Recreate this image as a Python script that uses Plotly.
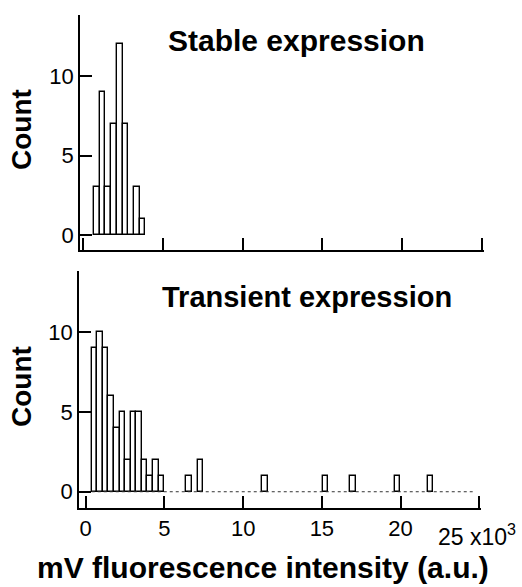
import plotly.graph_objects as go

# ---- data ----
stable_centers = [885, 1242, 1599, 1956, 2313, 2670, 3027, 3384, 3741]
stable_counts = [3, 9, 3, 7, 12, 7, 0, 3, 1]

transient_centers = [559, 913, 1267, 1621, 1975, 2329, 2683, 3037, 3391, 3745,
                     4099, 4453, 4807, 6564, 7284, 11385, 15243, 16988, 19809, 21891]
transient_counts = [9, 10, 9, 6, 4, 5, 2, 5, 5, 2,
                    1, 2, 1, 1, 2, 1, 1, 1, 1, 1]

bin_width = 354
zero_line_x = [382, 24580]

x_tick_vals = [0, 5000, 10000, 15000, 20000, 25000]
x_label_vals = [0, 5000, 10000, 15000, 20000]
x_label_text = ["0", "5", "10", "15", "20"]
y_tick_vals = [0, 5, 10]

W, H = 522, 587
FONT = "Liberation Sans, Arial, sans-serif"

fig = go.Figure()

bar_style = dict(marker=dict(color="white", line=dict(color="black", width=1.4)),
                 width=bin_width, showlegend=False)

fig.add_trace(go.Bar(x=stable_centers, y=stable_counts, xaxis="x", yaxis="y", **bar_style))
fig.add_trace(go.Scatter(x=zero_line_x, y=[0, 0], mode="lines", xaxis="x2", yaxis="y2",
                         line=dict(color="#333", width=1, dash="dot"), showlegend=False))
fig.add_trace(go.Bar(x=transient_centers, y=transient_counts, xaxis="x2", yaxis="y2", **bar_style))

axis_common = dict(showline=True, linecolor="black", linewidth=1.5, ticks="inside",
                   ticklen=12, tickwidth=1.5, tickcolor="black", showgrid=False,
                   zeroline=False, tickfont=dict(family=FONT, size=22, color="black"))

fig.update_layout(
    width=W, height=H,
    margin=dict(l=0, r=0, t=0, b=0),
    paper_bgcolor="white", plot_bgcolor="white",
    bargap=0,
    xaxis=dict(domain=[80 / W, 484 / W], range=[-169, 25106], anchor="y",
               tickvals=x_tick_vals, showticklabels=False, **axis_common),
    yaxis=dict(domain=[1 - 250 / H, 1 - 15 / H], range=[-0.94, 13.84], anchor="x",
               tickvals=y_tick_vals, **axis_common),
    xaxis2=dict(domain=[79 / W, 481 / W], range=[-427, 25108], anchor="y2",
                tickvals=x_label_vals, ticktext=x_label_text,
                minor=dict(tickvals=[25000], ticks="inside", ticklen=12, tickwidth=1.5,
                           tickcolor="black", showgrid=False),
                **axis_common),
    yaxis2=dict(domain=[1 - 508 / H, 1 - 271 / H], range=[-1.02, 13.85], anchor="x2",
                tickvals=y_tick_vals, **axis_common),
)

def ann(text, x, y, size, angle=0, xanchor="center"):
    fig.add_annotation(text=text, x=x, y=y, xref="paper", yref="paper",
                       xanchor=xanchor, yanchor="middle", showarrow=False, textangle=angle,
                       font=dict(family=FONT, size=size, color="black"))

ann("<b>Stable expression</b>", 296 / W, 1 - 41 / H, 30)
ann("<b>Transient expression</b>", 307 / W, 1 - 297 / H, 29)
ann("<b>Count</b>", 22 / W, 1 - 130 / H, 28, angle=-90)
ann("<b>Count</b>", 21 / W, 1 - 387 / H, 28, angle=-90)
ann("<b>mV fluorescence intensity (a.u.)</b>", 263 / W, 1 - 567 / H, 30)
ann("25 x10<sup>3</sup>", 436 / W, 1 - 535 / H, 23, xanchor="left")

fig.write_html("out.html")
